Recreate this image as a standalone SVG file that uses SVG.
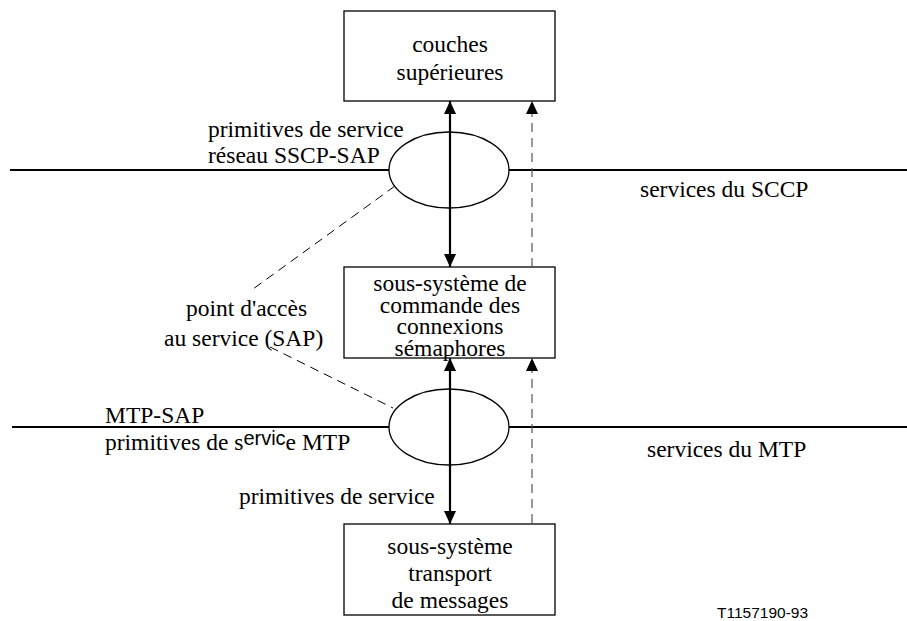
<svg xmlns="http://www.w3.org/2000/svg" width="907" height="621" viewBox="0 0 907 621">
<style>
.t{font-family:'Liberation Serif','Times New Roman',Times,serif;font-size:23.5px;fill:#000}
.c{text-anchor:middle}
.box{fill:#fff;stroke:#000;stroke-width:1.3}
.ell{fill:#fff;stroke:#000;stroke-width:1.3}
.bar{stroke:#000;stroke-width:2.2;fill:none}
.solid{stroke:#000;stroke-width:2.2;fill:none}
.dash{stroke:#555;stroke-width:1.2;stroke-dasharray:9 6;fill:none}
.diag{stroke:#000;stroke-width:1;stroke-dasharray:9 6;fill:none}
.ervic{font-family:'Liberation Sans',Arial,sans-serif;font-size:20px}
.code{font-family:'Liberation Sans',Arial,sans-serif;font-size:15.5px;fill:#000}
</style>
<defs>
<marker id="ah" viewBox="0 0 13 12" refX="13" refY="6" markerWidth="13" markerHeight="12" markerUnits="userSpaceOnUse" orient="auto-start-reverse">
<path d="M0,0 L13,6 L0,12 z" fill="#000"/>
</marker>
</defs>
<g id="service-lines">
<line class="bar" x1="10" y1="170" x2="907" y2="170"/>
<line class="bar" x1="12" y1="427" x2="907" y2="427"/>
</g>
<g id="sap-sccp"><ellipse class="ell" cx="449" cy="170" rx="60" ry="38"/></g>
<g id="sap-mtp"><ellipse class="ell" cx="449" cy="427" rx="60" ry="38"/></g>
<g id="couches">
<rect class="box" x="344" y="11" width="211" height="90"/>
<text class="t c" x="450" y="52">couches</text>
<text class="t c" x="450" y="80">supérieures</text>
</g>
<g id="sccp">
<rect class="box" x="344" y="267" width="211" height="91"/>
<text class="t c" x="450" y="291">sous-système de</text>
<text class="t c" x="450" y="313">commande des</text>
<text class="t c" x="450" y="334">connexions</text>
<text class="t c" x="450" y="356">sémaphores</text>
</g>
<g id="mtp">
<rect class="box" x="344" y="524" width="211" height="91"/>
<text class="t c" x="450" y="554">sous-système</text>
<text class="t c" x="450" y="581">transport</text>
<text class="t c" x="450" y="608">de messages</text>
</g>
<g id="connectors">
<line class="solid" x1="450" y1="101" x2="450" y2="267" marker-start="url(#ah)" marker-end="url(#ah)"/>
<line class="solid" x1="450" y1="358" x2="450" y2="524" marker-start="url(#ah)" marker-end="url(#ah)"/>
<line class="dash" x1="532" y1="267" x2="532" y2="101" marker-end="url(#ah)"/>
<line class="dash" x1="532" y1="523" x2="532" y2="358" marker-end="url(#ah)"/>
<line class="diag" x1="395" y1="186" x2="253" y2="289"/>
<line class="diag" x1="270" y1="347" x2="393" y2="408"/>
</g>
<g id="labels">
<text class="t" x="208" y="137">primitives de service</text>
<text class="t" x="208" y="163">réseau SSCP-SAP</text>
<text class="t" x="640" y="197">services du SCCP</text>
<text class="t" x="186" y="316">point d'accès</text>
<text class="t" x="164" y="346">au service (SAP)</text>
<text class="t" x="105" y="423">MTP-SAP</text>
<text class="t" x="105" y="450">primitives de s<tspan class="ervic" dy="-5">ervic</tspan><tspan dy="5">e MTP</tspan></text>
<text class="t" x="647" y="457">services du MTP</text>
<text class="t" x="239" y="504">primitives de service</text>
<text class="code" x="717" y="618">T1157190-93</text>
</g>
</svg>
